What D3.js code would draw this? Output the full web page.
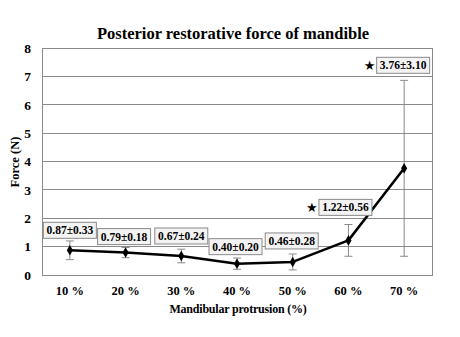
<!DOCTYPE html>
<html>
<head>
<meta charset="utf-8">
<script src="https://cdn.jsdelivr.net/npm/d3@7"></script>
<style>
  html, body { margin: 0; padding: 0; background: #fff; }
  svg { display: block; }
</style>
</head>
<body>
<svg id="chart" width="460" height="337"></svg>
<script>
// Mandibular protrusion levels
const categories = ["10 %", "20 %", "30 %", "40 %", "50 %", "60 %", "70 %"];
// Mean restorative force (N)
const means = [0.87, 0.79, 0.67, 0.40, 0.46, 1.22, 3.76];
// Standard deviations (N)
const sds = [0.33, 0.18, 0.24, 0.20, 0.28, 0.56, 3.10];
// Levels flagged as significant
const significant = [false, false, false, false, false, true, true];
// Y-axis ticks
const yTicks = [0, 1, 2, 3, 4, 5, 6, 7, 8];

// Callout placement relative to each point (pixels)
const labelOffsets = [[0, -20], [-1.5, -16], [0, -20], [-1.5, -17], [-1, -21], [-3, -33], [-1, -103]];

const SERIF = '"Liberation Serif", "Times New Roman", serif';

const svg = d3.select("#chart");
const margin = { left: 42, right: 28, top: 48, bottom: 62 };
const W = 460, H = 337;
const x0 = margin.left, x1 = W - margin.right;
const y0 = H - margin.bottom, y1 = margin.top;

const x = d3.scaleBand().domain(categories).range([x0, x1]);
const cx = c => x(c) + x.bandwidth() / 2;
const y = d3.scaleLinear().domain([0, 8]).range([y0, y1]);

function boldSerif(sel, size) {
  return sel.attr("font-family", SERIF).attr("font-weight", "bold")
    .attr("font-size", size).attr("fill", "#000");
}

// Title
boldSerif(svg.append("text"), 16.5).attr("x", 233).attr("y", 39).attr("text-anchor", "middle")
  .text("Posterior restorative force of mandible");

// Gridlines
svg.append("g").selectAll("line").data(yTicks.slice(1)).join("line")
  .attr("x1", x0).attr("x2", x1)
  .attr("y1", d => y(d)).attr("y2", d => y(d))
  .attr("stroke", "#8a8a8a").attr("stroke-width", 1).attr("shape-rendering", "crispEdges");

// Plot frame
svg.append("rect").attr("x", x0).attr("y", y1).attr("width", x1 - x0).attr("height", y0 - y1)
  .attr("fill", "none").attr("stroke", "#8a8a8a").attr("stroke-width", 1).attr("shape-rendering", "crispEdges");

// Y axis
const yAxis = d3.axisLeft(y).tickValues(yTicks).tickSize(0).tickPadding(11);
const gy = svg.append("g").attr("transform", `translate(${x0},0)`).call(yAxis)
  .attr("font-family", SERIF).attr("font-size", 13.5).attr("font-weight", "bold");
gy.select(".domain").remove();
gy.selectAll("text").attr("fill", "#000");

// X axis
const xAxis = d3.axisBottom(x).tickSize(0).tickPadding(11);
const gx = svg.append("g").attr("transform", `translate(0,${y0})`).call(xAxis)
  .attr("font-family", SERIF).attr("font-size", 12.5).attr("font-weight", "bold");
gx.select(".domain").remove();
gx.selectAll("text").attr("fill", "#000");

// Axis titles
boldSerif(svg.append("text"), 12).attr("x", 238).attr("y", 313).attr("text-anchor", "middle")
  .attr("letter-spacing", -0.2).text("Mandibular protrusion (%)");
boldSerif(svg.append("text"), 12.5).attr("transform", "translate(19,162) rotate(-90)")
  .attr("text-anchor", "middle").text("Force (N)");

// Error bars
const eb = svg.append("g").attr("stroke", "#8a8a8a").attr("stroke-width", 1);
categories.forEach((c, i) => {
  const px = cx(c), lo = y(means[i] - sds[i]), hi = y(means[i] + sds[i]);
  eb.append("line").attr("x1", px).attr("x2", px).attr("y1", lo).attr("y2", hi);
  eb.append("line").attr("x1", px - 4).attr("x2", px + 4).attr("y1", lo).attr("y2", lo);
  eb.append("line").attr("x1", px - 4).attr("x2", px + 4).attr("y1", hi).attr("y2", hi);
});

// Mean line
const line = d3.line().x((d, i) => cx(categories[i])).y(d => y(d));
svg.append("path").datum(means).attr("d", line)
  .attr("fill", "none").attr("stroke", "#000").attr("stroke-width", 2.5).attr("stroke-linejoin", "round");

// Diamond markers
svg.append("g").selectAll("path").data(means).join("path")
  .attr("d", d3.symbol().type(d3.symbolDiamond).size(32))
  .attr("transform", (d, i) => `translate(${cx(categories[i])},${y(d)})`)
  .attr("fill", "#000");

// Value callouts
const labels = svg.append("g");
categories.forEach((c, i) => {
  const bx = cx(c) + labelOffsets[i][0], by = y(means[i]) + labelOffsets[i][1];
  const g = labels.append("g").attr("transform", `translate(${bx},${by})`);
  g.append("rect").attr("x", -26.5).attr("y", -8).attr("width", 53).attr("height", 16)
    .attr("fill", "#f3f3f3").attr("stroke", "#8a8a8a").attr("stroke-width", 1);
  boldSerif(g.append("text"), 11.5).attr("x", 0).attr("y", 4).attr("text-anchor", "middle")
    .text(`${means[i].toFixed(2)}±${sds[i].toFixed(2)}`);
  if (significant[i]) {
    g.append("text").attr("x", -33.5).attr("y", 5).attr("text-anchor", "middle")
      .attr("font-family", '"DejaVu Sans", sans-serif').attr("font-size", 13).attr("fill", "#000")
      .text("★");
  }
});
</script>
</body>
</html>
